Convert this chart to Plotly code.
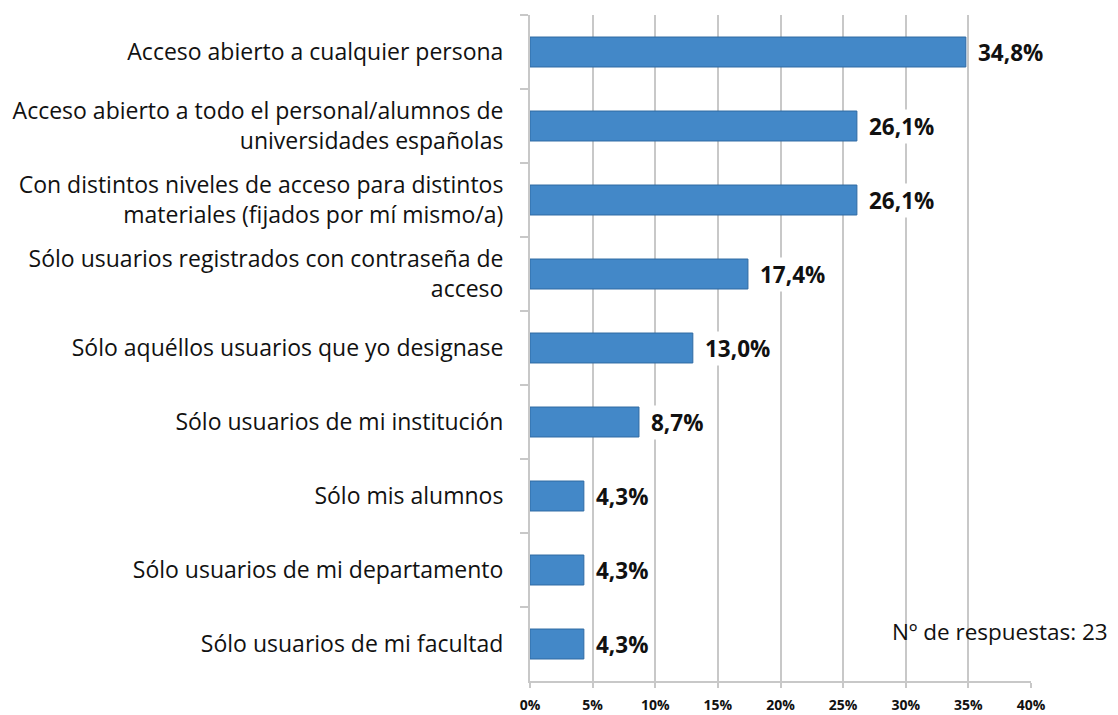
import plotly.graph_objects as go

categories = [
    "Acceso abierto a cualquier persona",
    "Acceso abierto a todo el personal/alumnos de<br>universidades españolas",
    "Con distintos niveles de acceso para distintos<br>materiales (fijados por mí mismo/a)",
    "Sólo usuarios registrados con contraseña de<br>acceso",
    "Sólo aquéllos usuarios que yo designase",
    "Sólo usuarios de mi institución",
    "Sólo mis alumnos",
    "Sólo usuarios de mi departamento",
    "Sólo usuarios de mi facultad",
]
values = [34.8, 26.1, 26.1, 17.4, 13.0, 8.7, 4.3, 4.3, 4.3]
tick_vals = [0, 5, 10, 15, 20, 25, 30, 35, 40]
tick_text = ["0%", "5%", "10%", "15%", "20%", "25%", "30%", "35%", "40%"]
labels = [f"{v:.1f}%".replace(".", ",") for v in values]
note = "Nº de respuestas: 23"

FONT = "'Open Sans', Lato, sans-serif"

fig = go.Figure()
fig.add_trace(go.Bar(
    x=values, y=categories, orientation="h",
    marker=dict(color="#4388c8", line=dict(color="#2f6aa3", width=1)),
    width=0.405, hoverinfo="skip",
))

for c, v, t in zip(categories, values, labels):
    fig.add_annotation(x=v, y=c, text=f"<b>{t}</b>", showarrow=False,
                       xanchor="left", xshift=10, bgcolor="white",
                       font=dict(family=FONT, size=22.5, color="#111"))

fig.add_annotation(x=0.7186, xref="paper", y=categories[-1], yref="y", text=note,
                   showarrow=False, xanchor="left", yshift=13,
                   font=dict(family=FONT, size=22.5, color="#111"))

fig.update_layout(
    width=1110, height=707,
    margin=dict(l=522, r=87, t=7, b=34, autoexpand=False),
    paper_bgcolor="white", plot_bgcolor="white",
    showlegend=False,
    font=dict(family=FONT, size=23, color="#111"),
)
fig.update_xaxes(
    range=[0, 40], tickvals=tick_vals, ticktext=tick_text, automargin=False,
    showgrid=True, gridcolor="#c8c8c8", gridwidth=2,
    showline=True, linecolor="#c8c8c8", linewidth=2,
    ticks="outside", ticklen=5, tickcolor="#c8c8c8", tickwidth=2,
    tickfont=dict(family=FONT, size=14, color="#111", weight="bold"),
    ticklabelstandoff=5,
    zeroline=False,
)
fig.update_yaxes(
    autorange="reversed", type="category", automargin=False,
    showline=True, linecolor="#c8c8c8", linewidth=2,
    ticks="outside", tickson="boundaries", ticklen=8, tickcolor="#c8c8c8", tickwidth=2,
    tickfont=dict(family=FONT, size=23, color="#111"),
    ticklabelstandoff=20,
    showgrid=False,
)

fig.write_html("out.html")
